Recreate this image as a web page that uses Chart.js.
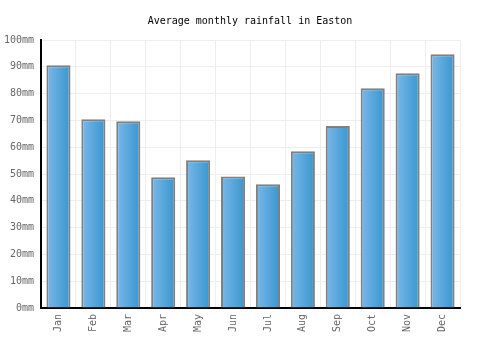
<!DOCTYPE html>
<html>
<head>
<meta charset="utf-8">
<script src="https://cdn.jsdelivr.net/npm/chart.js@4"></script>
<style>
  html, body { margin: 0; padding: 0; background: #fff; }
  #wrap { width: 500px; height: 350px; }
</style>
</head>
<body>
<div id="wrap"><canvas id="rainChart"></canvas></div>
<script>
// Chart data
const months = ['Jan', 'Feb', 'Mar', 'Apr', 'May', 'Jun', 'Jul', 'Aug', 'Sep', 'Oct', 'Nov', 'Dec'];
const rainfall = [90.6, 70.4, 69.7, 48.8, 55.1, 49.1, 46.2, 58.5, 67.9, 82.0, 87.6, 94.7];
const yTicks = [0, 10, 20, 30, 40, 50, 60, 70, 80, 90, 100];

const barPct = 0.69;

// horizontal gradient for each bar, left light -> right darker
function barGradient(context) {
    const chart = context.chart;
    const xScale = chart.scales.x;
    if (!xScale || context.dataIndex === undefined) return '#5aa8dd';
    const center = xScale.getPixelForValue(context.dataIndex);
    const half = (xScale.width / months.length) * barPct / 2;
    if (!isFinite(center) || !isFinite(half) || half <= 0) return '#5aa8dd';
    const g = chart.ctx.createLinearGradient(center - half, 0, center + half, 0);
    g.addColorStop(0, '#7ab8ea');
    g.addColorStop(1, '#3896ce');
    return g;
}

const chartConfig = {
    type: 'bar',
    data: {
        labels: months,
        datasets: [{
            label: 'Rainfall',
            data: rainfall,
            backgroundColor: barGradient,
            borderColor: '#808080',
            borderWidth: 2,
            barPercentage: barPct,
            categoryPercentage: 1
        }]
    },
    options: {
        responsive: true,
        maintainAspectRatio: false,
        animation: false,
        layout: {
            padding: 0
        },
        scales: {
            x: {
                grid: { color: '#eeeeee', lineWidth: 1, drawTicks: false },
                border: { color: '#000000', width: 2 },
                ticks: {
                    color: '#666666',
                    font: { family: 'DejaVu Sans Mono', size: 10 },
                    minRotation: 90,
                    maxRotation: 90,
                    padding: 6
                },
                afterFit: scale => { scale.height = 42; }
            },
            y: {
                min: 0,
                max: 100,
                afterBuildTicks: scale => {
                    scale.ticks = yTicks.map(v => ({ value: v }));
                },
                grid: { color: '#eeeeee', lineWidth: 1, drawTicks: false },
                border: { color: '#000000', width: 2 },
                ticks: {
                    color: '#666666',
                    font: { family: 'DejaVu Sans Mono', size: 10 },
                    padding: 7,
                    callback: v => v + 'mm'
                },
                afterFit: scale => { scale.width = 41; }
            },
            // empty right-hand space so the title stays centred on the canvas
            yRight: {
                position: 'right',
                min: 0,
                max: 100,
                grid: { display: false, drawOnChartArea: false },
                border: { display: false },
                ticks: { display: false },
                afterFit: scale => { scale.width = 40; }
            }
        },
        plugins: {
            legend: { display: false },
            tooltip: { enabled: false },
            title: {
                display: true,
                text: 'Average monthly rainfall in Easton',
                color: '#000000',
                font: { family: 'DejaVu Sans Mono', size: 10, weight: 'normal' },
                padding: { top: 15, bottom: 13 }
            }
        }
    }
};

const ctx = document.getElementById('rainChart').getContext('2d');
const chart = new Chart(ctx, chartConfig);
</script>
</body>
</html>
